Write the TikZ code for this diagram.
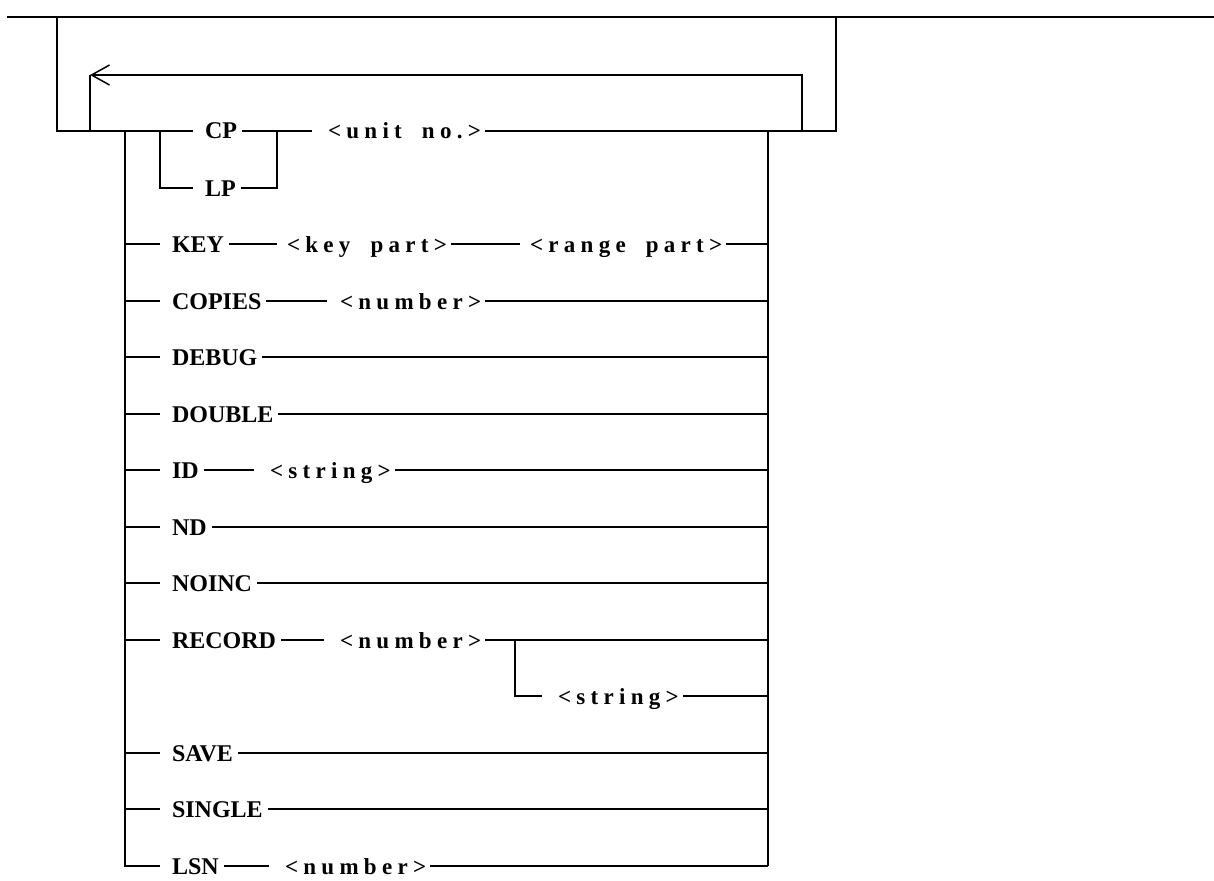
\documentclass[tikz,border=0pt]{standalone}
\usepackage{fontspec}
\setmainfont{Liberation Serif}
\newfontfamily\argfam{Liberation Serif}[LetterSpace=23]
\newcommand{\wsp}{\ \hspace{9pt}}
\usetikzlibrary{arrows.meta}
\tikzset{
  kw/.style={font=\fontsize{24}{27}\selectfont\bfseries, inner sep=0pt, outer sep=0pt,
             text height=16pt, text depth=0pt, anchor=west},
  arg/.style={font=\argfam\fontsize{23}{26}\selectfont\bfseries, inner sep=0pt, outer sep=0pt,
             text height=16pt, text depth=0pt, anchor=west},
  loopback/.style={-{Straight Barb[length=18pt,width=20pt]}},
}
\begin{document}
\begin{tikzpicture}[x=1pt,y=-1pt,line width=1.5pt]
\useasboundingbox (0,0) rectangle (1214,880);
% junctions
\coordinate (TL) at (7,17);
\coordinate (TR) at (1214,17);
\coordinate (OL) at (57,131);
\coordinate (OR) at (836,131);
\coordinate (LoopL) at (90,131);
\coordinate (LoopR) at (802,131);
\coordinate (LoopTL) at (90,75);
\coordinate (LoopTR) at (802,75);
\coordinate (LB) at (125,131);
\coordinate (RB) at (768,131);
\coordinate (CB) at (160,131);
\coordinate (CJ) at (277,131);
% nodes
\node[kw] (CP) at (205,131) {CP};
\node[kw] (LP) at (205,188) {LP};
\node[arg] (unit) at (328,131) {<unit\wsp no.>};
\node[kw] (KEY) at (172,244) {KEY};
\node[arg] (keypart) at (287,244) {<key\wsp part>};
\node[arg] (rangepart) at (530,244) {<range\wsp part>};
\node[kw] (COPIES) at (172,301) {COPIES};
\node[arg] (copnum) at (340,301) {<number>};
\node[kw] (DEBUG) at (172,357) {DEBUG};
\node[kw] (DOUBLE) at (172,414) {DOUBLE};
\node[kw] (ID) at (172,470) {ID};
\node[arg] (idstr) at (270,470) {<string>};
\node[kw] (ND) at (172,527) {ND};
\node[kw] (NOINC) at (172,583) {NOINC};
\node[kw] (RECORD) at (172,640) {RECORD};
\node[arg] (recnum) at (340,640) {<number>};
\coordinate (SB) at (515,640);
\node[arg] (recstr) at (558,696) {<string>};
\node[kw] (SAVE) at (172,753) {SAVE};
\node[kw] (SINGLE) at (172,809) {SINGLE};
\node[kw] (LSN) at (172,866) {LSN};
\node[arg] (lsnnum) at (285,866) {<number>};
% outer frame and loop
\draw (TL) -- (TR);
\draw (OL |- TL) -- (OL) -- ([xshift=-12pt]CP.west);
\draw[loopback] (LoopR) -- (LoopTR) -- (LoopTL);
\draw (LoopTL) -- (LoopL);
% CP / LP
\draw (CB) |- ([xshift=-12pt]LP.west);
\draw ([xshift=5pt]LP.east) -| (CJ);
\draw ([xshift=5pt]CP.east) -- ([xshift=-16pt]unit.west);
\draw ([xshift=4pt]unit.east) -- (OR) -- (OR |- TL);
% branch verticals
\draw (LB) |- ([xshift=-12pt]LSN.west);
\draw (RB) -- (RB |- LSN.west);
% keyword stubs
\foreach \k in {KEY,COPIES,DEBUG,DOUBLE,ID,ND,NOINC,RECORD,SAVE,SINGLE}
  \draw (LB |- \k.west) -- ([xshift=-12pt]\k.west);
% keyword to end (no argument)
\foreach \k in {DEBUG,DOUBLE,ND,NOINC,SAVE,SINGLE}
  \draw ([xshift=5pt]\k.east) -- (RB |- \k.east);
% keyword to argument
\draw ([xshift=5pt]KEY.east) -- ([xshift=-10pt]keypart.west);
\draw ([xshift=4pt]keypart.east) -- ([xshift=-10pt]rangepart.west);
\draw ([xshift=4pt]rangepart.east) -- (RB |- rangepart.east);
\draw ([xshift=5pt]COPIES.east) -- ([xshift=-13pt]copnum.west);
\draw ([xshift=4pt]copnum.east) -- (RB |- copnum.east);
\draw ([xshift=5pt]ID.east) -- ([xshift=-16pt]idstr.west);
\draw ([xshift=4pt]idstr.east) -- (RB |- idstr.east);
\draw ([xshift=5pt]RECORD.east) -- ([xshift=-16pt]recnum.west);
\draw ([xshift=4pt]recnum.east) -- (RB |- recnum.east);
\draw (SB) |- ([xshift=-16pt]recstr.west);
\draw ([xshift=4pt]recstr.east) -- (RB |- recstr.east);
\draw ([xshift=5pt]LSN.east) -- ([xshift=-16pt]lsnnum.west);
\draw ([xshift=4pt]lsnnum.east) -- (RB |- lsnnum.east);
\end{tikzpicture}
\end{document}
